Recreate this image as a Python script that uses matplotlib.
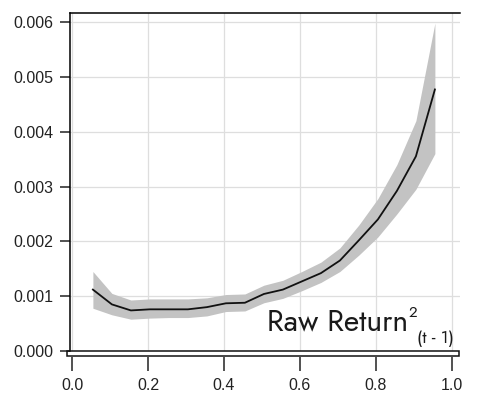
import numpy as np
import matplotlib
matplotlib.use("Agg")
import matplotlib.pyplot as plt
from matplotlib.patches import Rectangle

plt.rcParams["font.family"] = ["Liberation Sans", "DejaVu Sans"]

# lagged squared raw return vs. estimated response, with confidence band
x = [0.055, 0.105, 0.155, 0.205, 0.255, 0.305, 0.355, 0.405, 0.455, 0.505,
     0.555, 0.605, 0.655, 0.705, 0.755, 0.805, 0.855, 0.905, 0.955]
y = [1.12, 0.85, 0.74, 0.76, 0.76, 0.76, 0.80, 0.87, 0.88, 1.04,
     1.12, 1.27, 1.42, 1.65, 2.02, 2.40, 2.92, 3.55, 4.77]
lo = [0.78, 0.66, 0.58, 0.60, 0.61, 0.61, 0.64, 0.72, 0.73, 0.88,
      0.96, 1.10, 1.25, 1.45, 1.75, 2.08, 2.50, 2.95, 3.60]
hi = [1.45, 1.05, 0.93, 0.95, 0.95, 0.95, 0.97, 1.03, 1.04, 1.20,
      1.29, 1.45, 1.62, 1.88, 2.30, 2.78, 3.40, 4.20, 5.98]
xticks = [0.0, 0.2, 0.4, 0.6, 0.8, 1.0]
yticks = [0.000, 0.001, 0.002, 0.003, 0.004, 0.005, 0.006]

x = np.array(x)
y = np.array(y) * 1e-3
lo = np.array(lo) * 1e-3
hi = np.array(hi) * 1e-3

W, H = 481, 400
fig = plt.figure(figsize=(W / 100, H / 100), dpi=100)
ax = fig.add_axes([70 / W, 49 / H, 390 / W, 338 / H])

ax.fill_between(x, lo, hi, color="#c3c3c3", lw=0, zorder=2)
ax.plot(x, y, color="#111111", lw=1.3, zorder=3)

ax.set_xlim(-2 / 380, 388 / 380)
ax.set_ylim(0, 338 / 54.83 * 1e-3)
ax.set_xticks(xticks)
ax.set_yticks(yticks)
ax.set_xticklabels(["%.1f" % v for v in xticks])
ax.set_yticklabels(["%.3f" % v for v in yticks])
ax.grid(True, color="#dedede", lw=0.9, zorder=0)
ax.set_axisbelow(True)

for s in ["right", "bottom"]:
    ax.spines[s].set_visible(False)
ax.spines["left"].set_linewidth(1.1)
ax.spines["top"].set_linewidth(1.1)
ax.spines["bottom"].set_position(("outward", 4))

ax.tick_params(axis="y", length=7, width=1.1, pad=5, labelsize=11.5, colors="#222222")
ax.tick_params(axis="x", length=10, width=1.1, pad=5.5, labelsize=11.5, colors="#222222")

# boxed x axis strip under the plot area
fig.add_artist(Rectangle((67 / W, (H - 356) / H), (459 - 67) / W, 5 / H,
                         transform=fig.transFigure, fill=False,
                         edgecolor="#111111", lw=1.1, clip_on=False))

geo = ["Jost", "Liberation Sans", "DejaVu Sans"]
t1 = fig.text(267 / W, 70 / H, "Raw Return", fontsize=21.5, family=geo,
              weight="medium", color="#1a1a1a")
fig.canvas.draw()
bb = t1.get_window_extent()
fig.text((bb.x1 + 1) / W, 83 / H, "2", fontsize=11, family=geo,
         weight="medium", color="#1a1a1a")
fig.text((bb.x1 + 9) / W, 57 / H, "(t - 1)", fontsize=12.5, family=geo,
         weight="medium", color="#1a1a1a")

fig.savefig("out.png", dpi=100)
